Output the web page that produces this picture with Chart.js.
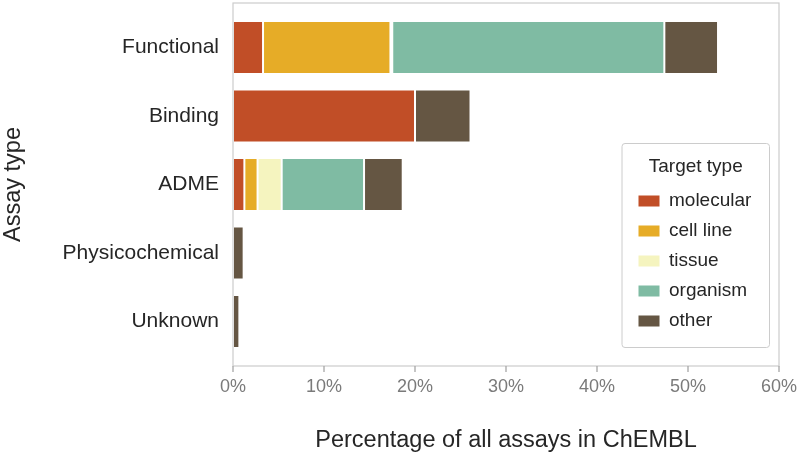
<!DOCTYPE html>
<html>
<head>
<meta charset="utf-8">
<script src="https://cdn.jsdelivr.net/npm/chart.js@4"></script>
<style>
  html, body { margin: 0; padding: 0; background: #ffffff; }
  #wrap { position: relative; width: 800px; height: 457px; }
</style>
</head>
<body>
<div id="wrap"><canvas id="c" width="800" height="457"></canvas></div>
<script>
// ---- data (percentage of all assays in ChEMBL) ----
const categories = ["Functional", "Binding", "ADME", "Physicochemical", "Unknown"];
const targetTypes = ["molecular", "cell line", "tissue", "organism", "other"];
const molecular = [3.3, 20.0, 1.25, 0, 0];
const cellLine  = [14.0, 0, 1.45, 0, 0];
const tissue    = [0.2, 0, 2.65, 0, 0];
const organism  = [29.9, 0, 9.05, 0, 0];
const other     = [5.9, 6.1, 4.25, 1.17, 0.7];
const xTicks    = [0, 10, 20, 30, 40, 50, 60];
const colors    = ["#C14E27", "#E6AC27", "#F5F4BF", "#7FBBA3", "#655643"];

const seriesValues = [molecular, cellLine, tissue, organism, other];
const FONT = "'Liberation Sans', Arial, Helvetica, sans-serif";

const datasets = seriesValues.map((vals, k) => ({
  label: targetTypes[k],
  data: vals.map((v, i) => ({ x: v, y: i })),
  backgroundColor: colors[k],
  borderColor: "#ffffff",
  borderWidth: 1,
  borderSkipped: false,
  categoryPercentage: 1.0,
  barPercentage: 0.775
}));

const framePlugin = {
  id: "frame",
  afterDraw(chart) {
    const { ctx, chartArea: a } = chart;
    ctx.save();
    ctx.strokeStyle = "#cccccc";
    ctx.lineWidth = 1.2;
    ctx.strokeRect(a.left, a.top, a.right - a.left, a.bottom - a.top);
    // x tick marks below the axis
    const xs = chart.scales.x;
    ctx.strokeStyle = "#a6a6a6";
    ctx.lineWidth = 1.3;
    xTicks.forEach(v => {
      const px = xs.getPixelForValue(v);
      ctx.beginPath();
      ctx.moveTo(px, a.bottom);
      ctx.lineTo(px, a.bottom + 6);
      ctx.stroke();
    });
    ctx.restore();
  }
};

const legendPlugin = {
  id: "boxLegend",
  afterDraw(chart) {
    const ctx = chart.ctx;
    const x0 = 622, y0 = 143.5, w = 147.5, h = 204;
    ctx.save();
    ctx.beginPath();
    const r = 3;
    ctx.moveTo(x0 + r, y0);
    ctx.lineTo(x0 + w - r, y0);
    ctx.arcTo(x0 + w, y0, x0 + w, y0 + r, r);
    ctx.lineTo(x0 + w, y0 + h - r);
    ctx.arcTo(x0 + w, y0 + h, x0 + w - r, y0 + h, r);
    ctx.lineTo(x0 + r, y0 + h);
    ctx.arcTo(x0, y0 + h, x0, y0 + h - r, r);
    ctx.lineTo(x0, y0 + r);
    ctx.arcTo(x0, y0, x0 + r, y0, r);
    ctx.closePath();
    ctx.fillStyle = "rgba(255,255,255,0.9)";
    ctx.fill();
    ctx.strokeStyle = "#cccccc";
    ctx.lineWidth = 1;
    ctx.stroke();

    ctx.fillStyle = "#262626";
    ctx.font = "19px " + FONT;
    ctx.textAlign = "center";
    ctx.textBaseline = "middle";
    ctx.fillText("Target type", x0 + w / 2, 167);

    chart.data.datasets.forEach((ds, k) => {
      const cy = 201 + k * 30;
      ctx.fillStyle = ds.backgroundColor;
      ctx.fillRect(638.5, cy - 5.5, 21, 11);
      ctx.fillStyle = "#262626";
      ctx.textAlign = "left";
      ctx.textBaseline = "middle";
      ctx.fillText(ds.label, 669, cy);
    });
    ctx.restore();
  }
};

new Chart(document.getElementById("c"), {
  type: "bar",
  data: { datasets },
  options: {
    indexAxis: "y",
    responsive: false,
    animation: false,
    layout: { padding: { top: 3, right: 21, bottom: 0, left: 0 } },
    plugins: {
      legend: { display: false },
      tooltip: { enabled: false }
    },
    scales: {
      x: {
        type: "linear",
        stacked: true,
        min: 0,
        max: 60,
        afterBuildTicks: (s) => { s.ticks = xTicks.map(v => ({ value: v })); },
        afterFit: (s) => { s.height = 91; s.paddingLeft = 0; s.paddingRight = 0; },
        border: { display: false },
        grid: {
          display: false,
          drawOnChartArea: false,
          drawTicks: false,
          tickLength: 6
        },
        ticks: {
          padding: 10,
          color: "#7a7a7a",
          font: { family: FONT, size: 18 },
          callback: (v) => v + "%"
        },
        title: {
          display: true,
          text: "Percentage of all assays in ChEMBL",
          color: "#262626",
          font: { family: FONT, size: 23.5 },
          padding: { top: 0, bottom: 2 }
        }
      },
      y: {
        type: "linear",
        stacked: true,
        reverse: true,
        offset: false,
        min: -0.65,
        max: 4.65,
        afterBuildTicks: (s) => { s.ticks = categories.map((c, i) => ({ value: i })); },
        afterFit: (s) => { s.width = 233; s.paddingTop = 0; s.paddingBottom = 0; },
        border: { display: false },
        grid: { display: false, drawTicks: false, offset: false },
        ticks: {
          padding: 14,
          color: "#262626",
          font: { family: FONT, size: 21 },
          callback: (v) => categories[v] !== undefined ? categories[v] : ""
        },
        title: {
          display: true,
          text: "Assay type",
          color: "#262626",
          font: { family: FONT, size: 23.5, lineHeight: 1.15 },
          padding: { top: 0, bottom: 0 }
        }
      }
    }
  },
  plugins: [framePlugin, legendPlugin]
});
</script>
</body>
</html>
